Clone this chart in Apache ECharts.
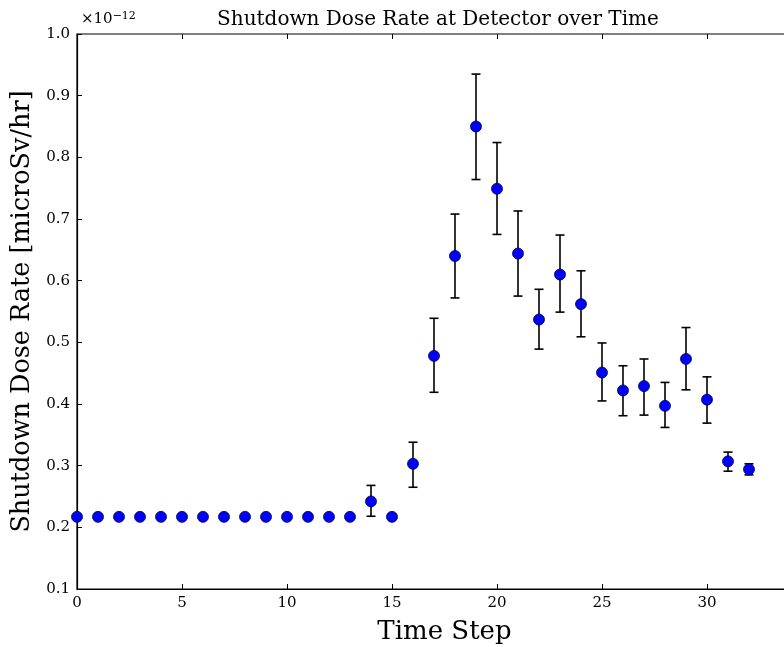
<!DOCTYPE html>
<html>
<head>
<meta charset="utf-8">
<script src="https://cdn.jsdelivr.net/npm/echarts@6/dist/echarts.min.js"></script>
<style>html,body{margin:0;padding:0;background:#fff}#c{width:784px;height:647px}</style>
</head>
<body>
<div id="c"></div>
<script>
// Time steps
const steps = [0,1,2,3,4,5,6,7,8,9,10,11,12,13,14,15,16,17,18,19,20,21,22,23,24,25,26,27,28,29,30,31,32];
// Dose rate (units of 1e-12 microSv/hr)
const dose = [0.217,0.217,0.217,0.217,0.217,0.217,0.217,0.217,0.217,0.217,0.217,0.217,0.217,0.217,0.242,0.217,0.303,0.478,0.640,0.850,0.749,0.644,0.537,0.610,0.562,0.451,0.422,0.429,0.397,0.473,0.407,0.307,0.294];
// Error bar lower / upper bounds (null = no visible bar)
const errLow  = [null,null,null,null,null,null,null,null,null,null,null,null,null,null,0.218,null,0.265,0.419,0.572,0.764,0.675,0.575,0.489,0.549,0.509,0.405,0.381,0.382,0.362,0.423,0.369,0.291,0.285];
const errHigh = [null,null,null,null,null,null,null,null,null,null,null,null,null,null,0.268,null,0.338,0.539,0.708,0.935,0.824,0.713,0.586,0.674,0.616,0.499,0.462,0.473,0.435,0.524,0.444,0.322,0.303];
const yTicks = [0.1,0.2,0.3,0.4,0.5,0.6,0.7,0.8,0.9,1.0];

const serif = '"DejaVu Serif", "Liberation Serif", serif';
const pts = steps.map((s,i)=>[s,dose[i]]);
const errs = [];
steps.forEach((s,i)=>{ if(errLow[i]!==null) errs.push([s,errLow[i],errHigh[i]]); });

const chart = echarts.init(document.getElementById('c'));
chart.setOption({
  animation:false,
  backgroundColor:'#fff',
  title:[{
    text:'Shutdown Dose Rate at Detector over Time',
    left:433, top:5, textAlign:'center',
    textStyle:{fontFamily:serif,fontSize:20,fontWeight:'normal',color:'#000'}
  },{
    text:'×10{s|−12}',
    left:76, top:6,
    textStyle:{fontFamily:serif,fontSize:15,fontWeight:'normal',color:'#000',
      rich:{s:{fontFamily:serif,fontSize:11,color:'#000',verticalAlign:'top',padding:[0,0,6,0]}}}
  }],
  grid:{left:77,top:34,right:-28,bottom:58,outerBoundsMode:'none',containLabel:false,
    show:true,borderColor:'#000',borderWidth:1.2,backgroundColor:'#fff'},
  xAxis:[{
    type:'value',min:0,max:35,interval:5,
    name:'Time Step',nameLocation:'middle',nameGap:30,
    nameTextStyle:{fontFamily:serif,fontSize:26,color:'#000'},
    axisLine:{show:true,lineStyle:{color:'#000',width:1.2}},
    axisTick:{show:true,inside:true,length:5,lineStyle:{color:'#000'}},
    axisLabel:{fontFamily:serif,fontSize:15,color:'#000',margin:7},
    splitLine:{show:false}
  },{
    type:'value',min:0,max:35,interval:5,position:'top',
    axisLine:{show:false},
    axisTick:{show:true,inside:true,length:5,lineStyle:{color:'#000'}},
    axisLabel:{show:false},splitLine:{show:false}
  }],
  yAxis:{
    type:'value',min:0.1,max:1.0,interval:0.1,
    name:'Shutdown Dose Rate [microSv/hr]',nameLocation:'middle',nameGap:41,
    nameTextStyle:{fontFamily:serif,fontSize:25.5,color:'#000'},
    axisLine:{show:true,lineStyle:{color:'#000',width:1.2}},
    axisTick:{show:true,inside:true,length:5,lineStyle:{color:'#000'}},
    axisLabel:{fontFamily:serif,fontSize:15,color:'#000',margin:7,
      formatter:v=>{const t=yTicks.find(x=>Math.abs(x-v)<1e-9);return (t!==undefined?t:v).toFixed(1);}},
    splitLine:{show:false}
  },
  series:[{
    type:'custom',
    data:errs,
    z:2,
    renderItem:(params,api)=>{
      const x=api.value(0);
      const lo=api.coord([x,api.value(1)]);
      const hi=api.coord([x,api.value(2)]);
      const w=4.5;
      const st={stroke:'#000',lineWidth:1.6};
      return {type:'group',children:[
        {type:'line',shape:{x1:lo[0],y1:lo[1],x2:hi[0],y2:hi[1]},style:st},
        {type:'line',shape:{x1:lo[0]-w,y1:lo[1],x2:lo[0]+w,y2:lo[1]},style:st},
        {type:'line',shape:{x1:hi[0]-w,y1:hi[1],x2:hi[0]+w,y2:hi[1]},style:st}
      ]};
    }
  },{
    type:'scatter',
    data:pts,
    z:3,
    symbol:'circle',symbolSize:11,
    itemStyle:{color:'#0000ff',borderColor:'#00003a',borderWidth:0.8,opacity:1}
  }]
});
</script>
</body>
</html>
